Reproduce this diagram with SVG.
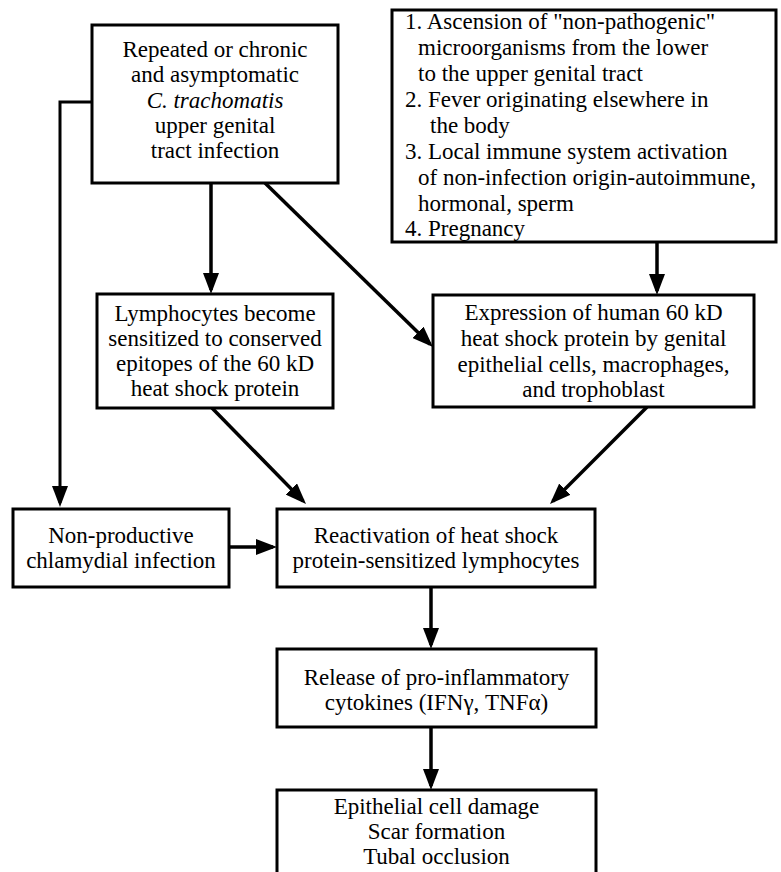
<svg xmlns="http://www.w3.org/2000/svg" width="781" height="872" viewBox="0 0 781 872">
<style>
.box{fill:#fff;stroke:#000;stroke-width:3}
text{font-family:"Liberation Serif","Times New Roman",serif;font-size:23px;fill:#000}
.c{text-anchor:middle}
.ln{fill:none;stroke:#000;stroke-width:3.5}
</style>
<defs>
<marker id="ah" markerUnits="userSpaceOnUse" markerWidth="21" markerHeight="16" refX="17" refY="8" orient="auto">
<path d="M0,0 L21,8 L0,16 z" fill="#000"/>
</marker>
</defs>
<rect width="781" height="872" fill="#fff"/>
<g id="connectors">
<line class="ln" x1="211" y1="183" x2="211" y2="290" marker-end="url(#ah)"/>
<line class="ln" x1="265" y1="183" x2="430.1" y2="344.2" marker-end="url(#ah)"/>
<path class="ln" style="stroke-width:3" d="M92,102 H60 V503" marker-end="url(#ah)"/>
<line class="ln" x1="229" y1="547" x2="273" y2="547" marker-end="url(#ah)"/>
<line class="ln" x1="212" y1="408" x2="303.2" y2="501.1" marker-end="url(#ah)"/>
<line class="ln" x1="657" y1="242" x2="657" y2="291" marker-end="url(#ah)"/>
<line class="ln" x1="647" y1="407" x2="552.8" y2="501.2" marker-end="url(#ah)"/>
<line class="ln" x1="431" y1="587" x2="431" y2="645" marker-end="url(#ah)"/>
<line class="ln" x1="431" y1="727" x2="431" y2="786" marker-end="url(#ah)"/>
</g>
<g id="n1">
<rect class="box" x="92" y="25" width="246" height="158"/>
<text class="c" x="215" y="57">Repeated or chronic</text>
<text class="c" x="215" y="82">and asymptomatic</text>
<text class="c" x="215" y="108" font-style="italic">C. trachomatis</text>
<text class="c" x="215" y="133">upper genital</text>
<text class="c" x="215" y="158">tract infection</text>
</g>
<g id="n2">
<rect class="box" x="392" y="10" width="384" height="232"/>
<text x="405" y="29">1. Ascension of "non-pathogenic"</text>
<text x="418" y="55">microorganisms from the lower</text>
<text x="418" y="81">to the upper genital tract</text>
<text x="405" y="107">2. Fever originating elsewhere in</text>
<text x="430" y="133">the body</text>
<text x="405" y="159">3. Local immune system activation</text>
<text x="418" y="185">of non-infection origin-autoimmune,</text>
<text x="418" y="211">hormonal, sperm</text>
<text x="405" y="236">4. Pregnancy</text>
</g>
<g id="n3">
<rect class="box" x="97" y="294" width="236" height="114"/>
<text class="c" x="215" y="321">Lymphocytes become</text>
<text class="c" x="215" y="346">sensitized to conserved</text>
<text class="c" x="215" y="371">epitopes of the 60 kD</text>
<text class="c" x="215" y="396">heat shock protein</text>
</g>
<g id="n4">
<rect class="box" x="433" y="295" width="321" height="112"/>
<text class="c" x="593.5" y="320">Expression of human 60 kD</text>
<text class="c" x="593.5" y="346">heat shock protein by genital</text>
<text class="c" x="593.5" y="372">epithelial cells, macrophages,</text>
<text class="c" x="593.5" y="397">and trophoblast</text>
</g>
<g id="n5">
<rect class="box" x="13" y="509" width="216" height="78"/>
<text class="c" x="121" y="543">Non-productive</text>
<text class="c" x="121" y="568">chlamydial infection</text>
</g>
<g id="n6">
<rect class="box" x="277" y="509" width="318" height="78"/>
<text class="c" x="436" y="543">Reactivation of heat shock</text>
<text class="c" x="436" y="568">protein-sensitized lymphocytes</text>
</g>
<g id="n7">
<rect class="box" x="277" y="649" width="319" height="78"/>
<text class="c" x="436.5" y="685">Release of pro-inflammatory</text>
<text class="c" x="436.5" y="710">cytokines (IFNγ, TNFα)</text>
</g>
<g id="n8">
<rect class="box" x="277" y="790" width="319" height="100"/>
<text class="c" x="436.5" y="814">Epithelial cell damage</text>
<text class="c" x="436.5" y="839">Scar formation</text>
<text class="c" x="436.5" y="864">Tubal occlusion</text>
</g>
</svg>
